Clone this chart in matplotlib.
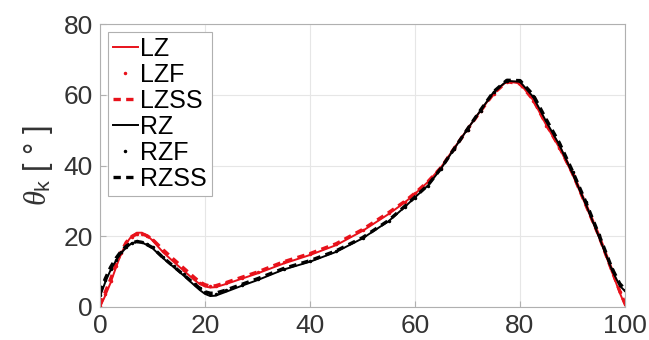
import matplotlib
matplotlib.use("Agg")
import matplotlib.pyplot as plt

x = [0, 1, 2, 3, 4, 5, 6, 7, 8, 9, 10, 12, 14, 16, 18, 19, 20, 21, 22, 24, 27, 30, 35,
     40, 45, 50, 55, 58, 60, 62.5, 65, 67.5, 70, 72.5, 75, 77.5, 80, 82.5, 85, 87.5,
     90, 92.5, 95, 97.5, 99, 100]

LZ = [0, 3.2, 6.8, 11, 15, 18, 20, 21, 21, 20.2, 18.8, 15.5, 12.8, 10.2, 7.6, 6.5, 5.8, 5.5,
      5.6, 6.5, 8, 9.5, 12.3, 14.7, 17.5, 21.5, 26.3, 29.5, 32, 35.4, 39.6, 45, 50.3,
      55.5, 60.5, 63.8, 63.2, 58.5, 51.4, 45, 37.5, 28.8, 20, 10, 4, 0.5]
LZF = [0.3, 3.8, 7.4, 11.5, 15.3, 18.2, 19.8, 20.5, 20.6, 20.0, 18.9, 15.9, 13.2, 10.6, 8.0, 6.9, 6.1, 5.8,
       5.9, 6.8, 8.3, 9.8, 12.6, 15.0, 17.8, 21.8, 26.6, 29.7, 32.1, 35.3, 39.4, 44.8, 50.1,
       55.3, 60.3, 63.6, 63.0, 58.3, 51.3, 44.9, 37.6, 28.9, 20.1, 10.2, 4.3, 0.8]
LZSS = [0.5, 4.2, 7.8, 11.8, 15.5, 18.3, 19.9, 20.6, 20.7, 20.1, 19.1, 16.2, 13.5, 10.9, 8.3, 7.1, 6.3, 5.9,
        6.0, 6.9, 8.4, 9.9, 12.8, 15.1, 17.9, 21.9, 26.7, 29.8, 32.2, 35.5, 39.5, 44.9, 50.2,
        55.4, 60.4, 63.7, 63.1, 58.6, 51.6, 45.2, 37.8, 29.0, 20.2, 10.3, 4.5, 1.0]
RZ = [3, 7, 10.4, 13, 15.2, 16.8, 18, 18.4, 18.2, 17.5, 16.6, 13.8, 11.3, 8.8, 6.1, 4.8, 3.7, 3.1,
      3.2, 4.3, 6, 7.6, 10.6, 12.8, 15.6, 19.4, 24.3, 28.2, 31, 34.4, 39.2, 44.8, 50.3,
      55.6, 60.8, 63.9, 63.7, 59.4, 52.4, 45.8, 37.8, 29.2, 20, 10.5, 6, 4.5]
RZF = [3.5, 7.5, 10.8, 13.4, 15.5, 17.1, 18.2, 18.6, 18.4, 17.7, 16.9, 14.2, 11.7, 9.2, 6.6, 5.3, 4.2, 3.7,
       3.7, 4.7, 6.3, 7.9, 10.8, 13.0, 15.8, 19.5, 24.4, 28.3, 30.9, 34.3, 39.1, 44.6, 50.1,
       55.5, 60.7, 63.9, 63.8, 59.7, 52.8, 46.2, 38.2, 29.6, 20.4, 10.8, 6.3, 4.8]
RZSS = [4.0, 8.0, 11.2, 13.7, 15.7, 17.2, 18.1, 18.5, 18.3, 17.6, 16.8, 14.0, 11.5, 9.0, 6.5, 5.3, 4.3, 3.9,
        3.9, 4.8, 6.4, 8.0, 10.9, 13.1, 15.9, 19.6, 24.5, 28.4, 31.1, 34.5, 39.3, 44.8, 50.3,
        55.7, 60.9, 64.1, 64.0, 60.0, 53.0, 46.4, 38.4, 29.8, 20.6, 11.0, 6.6, 5.0]

xticks = [0, 20, 40, 60, 80, 100]
yticks = [0, 20, 40, 60, 80]

plt.rcParams['font.family'] = ['Liberation Sans', 'DejaVu Sans']
plt.rcParams['mathtext.fontset'] = 'custom'
plt.rcParams['mathtext.rm'] = 'Liberation Sans'
plt.rcParams['mathtext.it'] = 'Liberation Serif:italic'

fig = plt.figure(figsize=(6.49, 3.40), dpi=100)
ax = fig.add_axes([100/649, 1 - 307/340, 525/649, 283/340])

red = '#e8121b'
ax.plot(x, LZ, color=red, lw=1.4, label='LZ')
ax.plot(x, LZF, color=red, lw=0, marker='.', ms=3, label='LZF')
ax.plot(x, LZSS, color=red, lw=2.4, ls=(0, (2.2, 1.6)), label='LZSS')
ax.plot(x, RZ, color='black', lw=1.4, label='RZ')
ax.plot(x, RZF, color='black', lw=0, marker='.', ms=3, label='RZF')
ax.plot(x, RZSS, color='black', lw=2.4, ls=(0, (2.2, 1.6)), label='RZSS')

ax.set_xlim(0, 100)
ax.set_ylim(0, 80)
ax.set_xticks(xticks)
ax.set_yticks(yticks)
ax.grid(True, color='#e6e6e6', lw=0.8)
ax.set_axisbelow(True)
for s in ax.spines.values():
    s.set_color('#b0b0b0')
    s.set_linewidth(0.8)
ax.tick_params(direction='in', color='#b0b0b0', length=4, labelsize=19,
               labelcolor='#333333', pad=5)
ax.set_ylabel(r'$\theta_{\mathrm{k}}$ [ ° ]', fontsize=22, color='#333333', labelpad=6)

leg = ax.legend(loc='upper left', fontsize=18, handlelength=1.0, handletextpad=0.12,
                labelspacing=0.08, borderpad=0.2, borderaxespad=0.3, fancybox=False,
                framealpha=1, edgecolor='#b0b0b0')
leg.get_frame().set_linewidth(0.8)
for t in leg.get_texts():
    t.set_color('black')

fig.savefig('out.png', dpi=100)
